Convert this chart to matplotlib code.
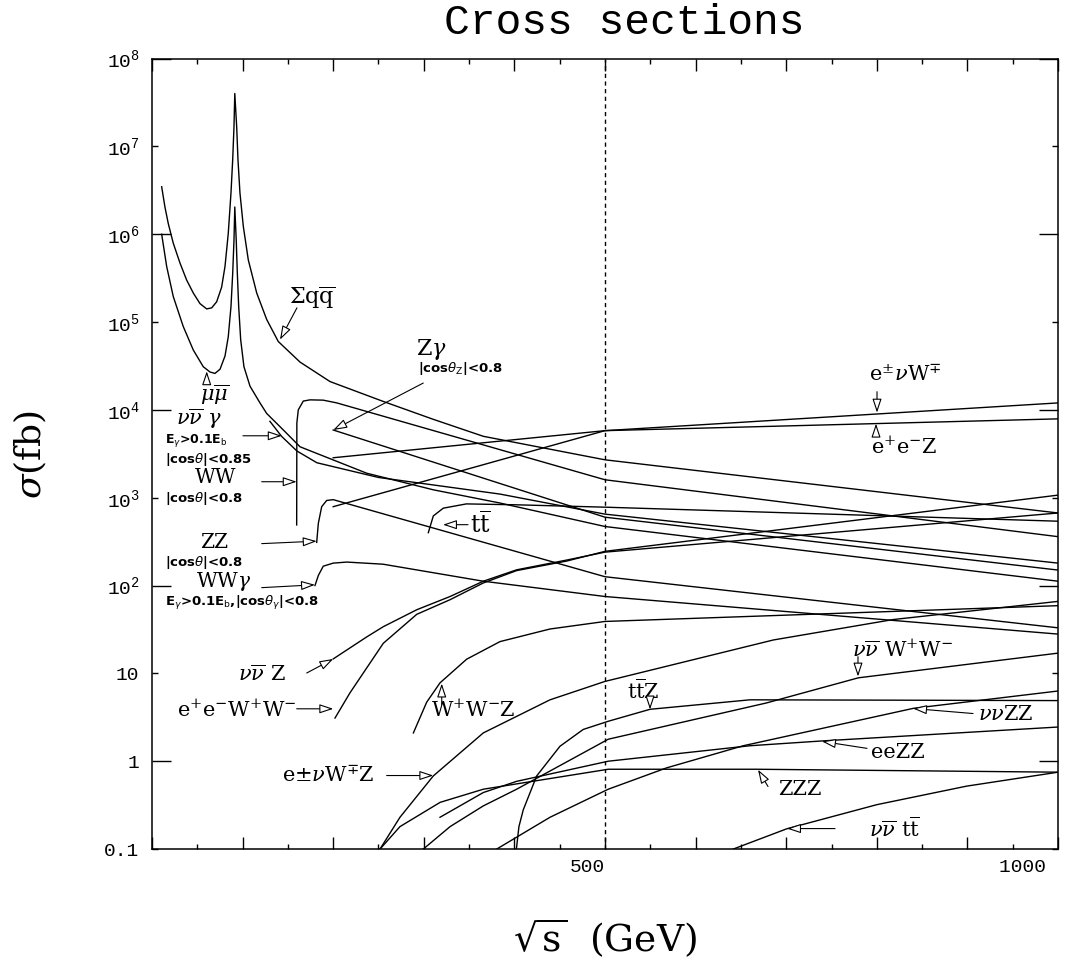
import matplotlib
matplotlib.use("Agg")
import matplotlib.pyplot as plt
from matplotlib.ticker import FixedLocator, FixedFormatter, MultipleLocator

plt.rcParams["font.family"] = "DejaVu Serif"
plt.rcParams["mathtext.fontset"] = "dejavuserif"

# sqrt(s) in GeV, sigma in fb
qq_x = [10.7, 14.3, 18.0, 23.5, 30.9, 38.3, 45.6, 53.0, 60.4, 65.9, 71.4, 76.9, 80.6,
        84.2, 87.2, 89.1, 90.5, 91.4, 93.5, 94.9, 97.1, 100.8, 106.3, 115.6, 126.6,
        139.4, 163.4, 196.5, 255, 310.5, 365.7, 500, 1000]
qq_y = [3.47e6, 2.04e6, 1.32e6, 7.9e5, 4.7e5, 3.0e5, 2.14e5, 1.62e5, 1.41e5, 1.45e5, 1.7e5,
        2.5e5, 4.3e5, 1.02e6, 2.95e6, 7.1e6, 1.66e7, 4.0e7, 1.66e7, 7.1e6, 2.95e6, 1.23e6,
        5.1e5, 2.14e5, 1.07e5, 6.0e4, 3.5e4, 2.1e4, 1.25e4, 7.8e3, 5.0e3, 2.7e3, 6.7e2]

mu_x = [10.7, 16.2, 23.5, 34.5, 45.6, 56.6, 64.0, 69.5, 75.1, 80.6, 84.2, 87.2, 89.1,
        90.5, 91.4, 93.0, 94.2, 95.7, 97.9, 101.5, 108.2, 119.2, 126.6, 145, 163.4,
        237, 310.5, 384, 500, 1000]
mu_y = [1.0e6, 4.3e5, 1.95e5, 8.9e4, 4.8e4, 3.1e4, 2.7e4, 2.6e4, 2.9e4, 4.1e4, 6.8e4, 1.5e5,
        3.6e5, 8.5e5, 2.04e6, 8.5e5, 3.6e5, 1.5e5, 6.3e4, 3.1e4, 1.86e4, 1.2e4, 9.1e3, 5.9e3,
        3.8e3, 1.9e3, 1.23e3, 8.7e2, 4.7e2, 1.12e2]

nng_x = [130.2, 143, 160, 182, 250, 384, 500, 1000]
nng_y = [7.4e3, 5.0e3, 3.4e3, 2.5e3, 1.7e3, 1.1e3, 6.5e2, 1.8e2]

zg_x = [200, 500, 1000]
zg_y = [5.9e3, 6.0e2, 1.5e2]

ww_x = [159.7, 159.9, 161.5, 167, 174.4, 189, 204, 500, 1000]
ww_y = [4.9e2, 7.1e3, 1.0e4, 1.26e4, 1.3e4, 1.29e4, 1.2e4, 1.6e3, 3.6e2]

zz_x = [181.8, 183.6, 187.3, 192.8, 200, 500, 1000]
zz_y = [3.1e2, 5.1e2, 7.9e2, 9.3e2, 9.5e2, 1.26e2, 33]

wwg_x = [179.9, 183.6, 189, 200, 215, 255, 365.7, 500, 1000]
wwg_y = [1.0e2, 1.3e2, 1.66e2, 1.8e2, 1.85e2, 1.75e2, 1.12e2, 75, 28]

tt_x = [305, 310.5, 321.5, 347, 402.5, 500, 1000]
tt_y = [4.0e2, 6.2e2, 7.6e2, 8.5e2, 8.3e2, 7.8e2, 5.4e2]

enw_x = [200, 500, 1000]
enw_y = [7.9e2, 5.8e3, 1.2e4]

eez_x = [200, 500, 1000]
eez_y = [2.85e3, 5.8e3, 7.9e3]

nnz_x = [200, 237, 255.3, 292.2, 329, 365.7, 402.5, 457.7, 500, 1000]
nnz_y = [14.6, 26, 34, 53, 75, 112, 151, 195, 240, 670]

eeww_x = [202, 218.5, 255.3, 292.2, 329, 365.7, 402.5, 457.7, 500, 1000]
eeww_y = [3.1, 6.0, 22, 47, 69, 107, 148, 190, 245, 1070]

wwz_x = [288.5, 303.2, 317.9, 347.3, 384.1, 439.3, 500, 1000]
wwz_y = [2.1, 4.7, 7.8, 14.5, 23, 32, 39, 59]

enwz_x = [251.7, 273.7, 310.5, 365.7, 439.3, 500, 685.8, 818, 1000]
enwz_y = [0.1, 0.23, 0.68, 2.1, 5.0, 8.1, 24, 41, 66]

ttz_x = [402.2, 405, 409.8, 424.6, 450.3, 476, 503.6, 549.7, 660, 1000]
ttz_y = [0.1, 0.18, 0.28, 0.68, 1.48, 2.3, 2.85, 3.9, 5.0, 4.9]

nnww_x = [299.5, 329, 365.7, 402.5, 503.6, 678, 779.6, 1000]
nnww_y = [0.1, 0.18, 0.31, 0.48, 1.78, 4.6, 8.9, 17]

nnzz_x = [380.5, 439.3, 503.6, 568, 652.6, 840.4, 1000]
nnzz_y = [0.1, 0.23, 0.48, 0.84, 1.5, 4.0, 6.3]

eezz_x = [317.9, 365.7, 402.5, 503.6, 660, 739, 1000]
eezz_y = [0.23, 0.44, 0.59, 1.0, 1.5, 1.7, 2.45]

zzz_x = [251.7, 273.7, 318, 365.7, 503.6, 667, 1000]
zzz_y = [0.1, 0.18, 0.34, 0.48, 0.81, 0.81, 0.75]

nntt_x = [641.6, 700.6, 800, 899, 1000]
nntt_y = [0.1, 0.17, 0.32, 0.52, 0.75]

curves = [(qq_x, qq_y), (mu_x, mu_y), (nng_x, nng_y), (zg_x, zg_y), (ww_x, ww_y),
          (zz_x, zz_y), (wwg_x, wwg_y), (tt_x, tt_y), (enw_x, enw_y), (eez_x, eez_y),
          (nnz_x, nnz_y), (eeww_x, eeww_y), (wwz_x, wwz_y), (enwz_x, enwz_y),
          (ttz_x, ttz_y), (nnww_x, nnww_y), (nnzz_x, nnzz_y), (eezz_x, eezz_y),
          (zzz_x, zzz_y), (nntt_x, nntt_y)]

y_ticks = [0.1, 1, 10, 1e2, 1e3, 1e4, 1e5, 1e6, 1e7, 1e8]
y_labels = ['0.1', '1', '10'] + [r'$\mathregular{10^{%d}}$' % k for k in range(2, 9)]
x_major = list(range(0, 1001, 100))
x_labels = {500: '500', 1000: '1000 '}

fig = plt.figure(figsize=(10.71, 9.61), dpi=100)
ax = fig.add_axes([0.1419, 0.1165, 0.846, 0.8226])

for x, y in curves:
    ax.plot(x, y, color='black', lw=1.0)

ax.axvline(500, color='black', lw=1.0, ls=(0, (3, 2.5)))

ax.set_yscale('log')
ax.set_xlim(0, 1000)
ax.set_ylim(0.1, 1e8)

# long ticks on even decades, short ones on odd decades
ax.yaxis.set_major_locator(FixedLocator(y_ticks[1::2]))
ax.yaxis.set_major_formatter(FixedFormatter(y_labels[1::2]))
ax.yaxis.set_minor_locator(FixedLocator(y_ticks[0::2]))
ax.yaxis.set_minor_formatter(FixedFormatter(y_labels[0::2]))
ax.set_xticks(x_major, [x_labels.get(v, '') for v in x_major], ha='right')
ax.xaxis.set_minor_locator(MultipleLocator(50))

ax.tick_params(which='both', direction='in', top=True, right=True, width=1.0,
               labelsize=14, labelfontfamily='Liberation Mono')
ax.tick_params(axis='y', which='major', length=14, pad=9)
ax.tick_params(axis='y', which='minor', length=4.5, pad=9)
ax.tick_params(axis='x', which='major', length=8.5, pad=7)
ax.tick_params(axis='x', which='minor', length=3.5)
for s in ax.spines.values():
    s.set_linewidth(1.1)

head = dict(arrowstyle='-|>,head_length=0.6,head_width=0.2', fc='white',
            ec='black', lw=0.8, shrinkA=0, shrinkB=0, mutation_scale=14)


def arrow(tail, tip):
    ax.annotate('', xy=tip, xytext=tail, arrowprops=head)


def tag(x, y, s, size=15, ha='center'):
    ax.text(x, y, s, fontsize=size, ha=ha, va='center')


def note(x, y, s, size=9.5):
    ax.text(x, y, s, fontsize=size, ha='left', va='center', family='DejaVu Sans',
            weight='bold', math_fontfamily='dejavusans')


tag(176.6, 1.88e5, r'$\Sigma\mathrm{q}\overline{\mathrm{q}}$', size=16)
arrow((160, 1.45e5), (141.3, 6.3e4))

tag(69.5, 1.5e4, r'$\mu\overline{\mu}$', size=15)
arrow((60.4, 1.98e4), (60.4, 2.75e4))

tag(51.9, 7.9e3, r'$\nu\overline{\nu}\ \gamma$', size=15)
note(14.3, 4.5e3, r'E$_\gamma$>0.1E$_\mathrm{b}$', size=9)
note(14.3, 2.7e3, r'|cos$\theta$|<0.85')
arrow((100.4, 5.07e3), (143.2, 5.07e3))

tag(70.6, 1.72e3, 'WW', size=14.5)
note(14.3, 0.98e3, r'|cos$\theta$|<0.8')
arrow((121.1, 1.52e3), (159.7, 1.52e3))

tag(68.4, 305, 'ZZ', size=14.5)
note(14.3, 185, r'|cos$\theta$|<0.8')
arrow((121.1, 300), (181.8, 320))

tag(79.5, 110, r'WW$\gamma$', size=14.5)
note(14.3, 63, r'E$_\gamma$>0.1E$_\mathrm{b}$,|cos$\theta_\gamma$|<0.8')
arrow((121.1, 94.6), (179.9, 102))

tag(308, 4.83e4, r'Z$\gamma$', size=16)
note(293.6, 2.94e4, r'|cos$\theta_\mathrm{Z}$|<0.8')
arrow((299.4, 2.02e4), (200.1, 5.9e3))

tag(351, 493, r'$\mathrm{t}\overline{\mathrm{t}}$', size=17, ha='left')
arrow((348.8, 493), (321.2, 493))

tag(831, 2.5e4, r'e$^{\pm}\nu$W$^{\mp}$')
arrow((800.2, 1.61e4), (800.2, 9.3e3))

tag(830, 3.81e3, r'e$^{+}$e$^{-}$Z')
arrow((799.1, 4.95e3), (799.1, 6.97e3))

tag(121.4, 9.68, r'$\nu\overline{\nu}$ Z')
arrow((170.8, 10.1), (200.1, 14.6))

tag(93.8, 3.87, r'e$^{+}$e$^{-}$W$^{+}$W$^{-}$')
arrow((159.7, 3.95), (200.1, 3.95))

tag(354.3, 3.87, r'W$^{+}$W$^{-}$Z')
arrow((319.8, 4.42), (319.8, 7.66))

tag(194.3, 0.687, r'e$\pm\nu$W$^{\mp}$Z')
arrow((259, 0.687), (310.5, 0.687))

tag(542, 6.38, r'$\mathrm{t}\overline{\mathrm{t}}$Z')
arrow((549.7, 5.31), (549.7, 3.88))

tag(828, 18.7, r'$\nu\overline{\nu}$ W$^{+}$W$^{-}$')
arrow((779.2, 15.5), (779.2, 9.2))

tag(942.6, 3.4, r'$\nu\nu$ZZ')
arrow((906.2, 3.49), (840, 3.98))

tag(823.4, 1.26, 'eeZZ')
arrow((789.2, 1.40), (739.5, 1.68))

tag(715.2, 0.476, 'ZZZ')
arrow((679.9, 0.515), (668.9, 0.80))

tag(819, 0.171, r'$\nu\overline{\nu}$ $\mathrm{t}\overline{\mathrm{t}}$')
arrow((753.9, 0.171), (700.9, 0.171))

fig.text(0.5826, 0.997, 'Cross sections', ha='center', va='top',
         fontsize=31, family='Liberation Mono')
fig.text(0.028, 0.5265, r'$\sigma(\mathrm{fb})$', rotation=90, ha='center',
         va='center', fontsize=26)
fig.text(0.565, 0.024, r'$\sqrt{\mathrm{s}}$  (GeV)', ha='center', va='center',
         fontsize=27)

fig.savefig('out.png', dpi=100)
